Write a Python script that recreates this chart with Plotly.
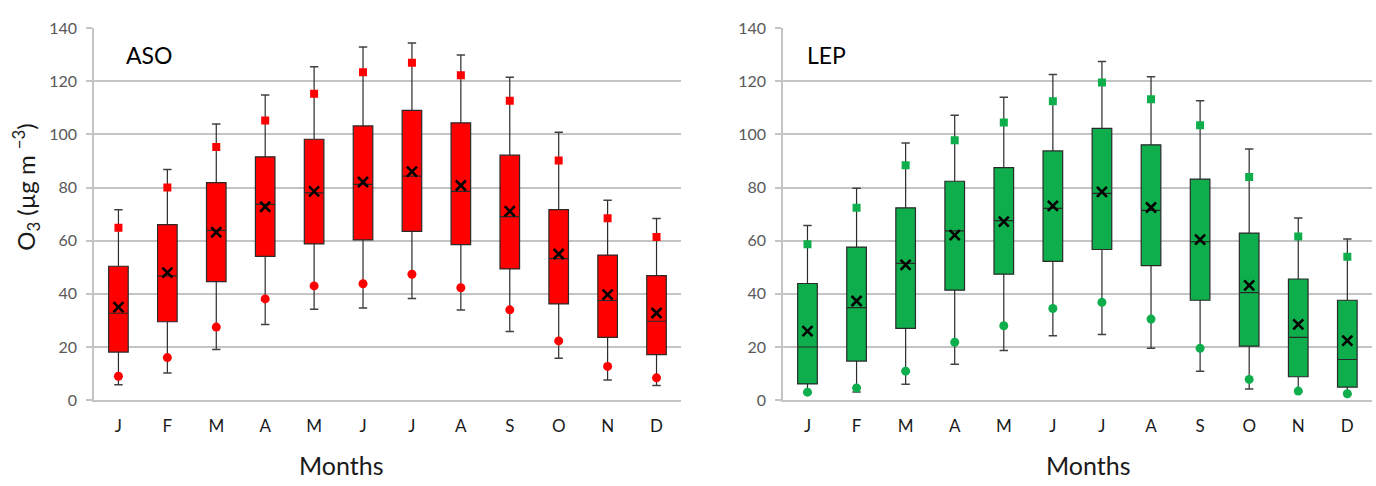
import plotly.graph_objects as go

months = ["J", "F", "M", "A", "M", "J", "J", "A", "S", "O", "N", "D"]
cats = ["Jan", "Feb", "Mar", "Apr", "May", "Jun", "Jul", "Aug", "Sep", "Oct", "Nov", "Dec"]

# ASO station
aso_max = [71.7, 86.8, 103.9, 114.9, 125.5, 132.9, 134.4, 129.9, 121.5, 100.8, 75.2, 68.4]
aso_p95 = [64.9, 80.0, 95.3, 105.3, 115.3, 123.4, 127.0, 122.3, 112.7, 90.2, 68.5, 61.4]
aso_q3 = [50.4, 66.1, 81.9, 91.6, 98.2, 103.2, 109.1, 104.4, 92.2, 71.7, 54.6, 46.9]
aso_med = [32.7, 46.8, 63.9, 73.7, 78.0, 81.2, 84.3, 78.6, 69.1, 53.3, 37.5, 29.7]
aso_mean = [35.0, 48.0, 63.2, 72.8, 78.6, 82.1, 86.0, 80.8, 71.1, 55.0, 39.7, 32.8]
aso_q1 = [18.1, 29.5, 44.6, 54.1, 58.8, 60.3, 63.5, 58.5, 49.4, 36.2, 23.6, 17.1]
aso_p5 = [9.0, 16.0, 27.5, 38.1, 43.0, 43.8, 47.4, 42.3, 34.0, 22.3, 12.7, 8.4]
aso_min = [5.8, 10.2, 19.1, 28.5, 34.2, 34.7, 38.3, 33.9, 25.8, 15.8, 7.6, 5.5]

# LEP station
lep_max = [65.7, 79.8, 96.8, 107.2, 114.0, 122.6, 127.5, 121.7, 112.7, 94.5, 68.6, 60.7]
lep_p95 = [58.7, 72.4, 88.4, 97.8, 104.5, 112.5, 119.6, 113.3, 103.5, 84.0, 61.6, 54.0]
lep_q3 = [43.9, 57.6, 72.4, 82.4, 87.5, 93.8, 102.3, 96.1, 83.2, 62.9, 45.6, 37.6]
lep_med = [20.0, 34.8, 51.5, 63.7, 67.6, 72.2, 77.8, 71.4, 59.7, 40.5, 23.6, 15.3]
lep_mean = [26.0, 37.3, 50.9, 62.1, 67.2, 73.1, 78.4, 72.5, 60.4, 43.2, 28.5, 22.4]
lep_q1 = [6.1, 14.7, 27.0, 41.4, 47.4, 52.2, 56.7, 50.6, 37.6, 20.3, 8.8, 4.9]
lep_p5 = [3.0, 4.6, 10.9, 21.8, 28.0, 34.5, 36.8, 30.5, 19.5, 7.8, 3.4, 2.4]
lep_min = [2.8, 3.1, 6.0, 13.5, 18.7, 24.2, 24.7, 19.5, 10.9, 4.2, 3.2, 2.2]

FONT = "Lato"
GRID = "#C4C4C4"

fig = go.Figure()


def add_panel(xa, ya, color, mx, p95, q3, med, mean, q1, p5, mn):
    fig.add_trace(go.Box(
        x=cats, q1=q1, median=med, q3=q3, lowerfence=mn, upperfence=mx,
        fillcolor=color, line=dict(color="#2A2A2A", width=1.2),
        width=0.4, whiskerwidth=0, boxpoints=False, hoverinfo="skip",
        xaxis=xa, yaxis=ya, showlegend=False,
    ))
    # whisker caps
    fig.add_trace(go.Scatter(
        x=cats + cats, y=mx + mn, mode="markers",
        marker=dict(symbol="line-ew", size=6, line=dict(color="#404040", width=1.5)),
        xaxis=xa, yaxis=ya, showlegend=False, hoverinfo="skip",
    ))
    fig.add_trace(go.Scatter(
        x=cats, y=p95, mode="markers",
        marker=dict(symbol="square", size=8, color=color),
        xaxis=xa, yaxis=ya, showlegend=False,
    ))
    fig.add_trace(go.Scatter(
        x=cats, y=p5, mode="markers",
        marker=dict(symbol="circle", size=9, color=color),
        xaxis=xa, yaxis=ya, showlegend=False,
    ))
    fig.add_trace(go.Scatter(
        x=cats, y=mean, mode="markers",
        marker=dict(symbol="x-thin", size=10, line=dict(color="black", width=2.6)),
        xaxis=xa, yaxis=ya, showlegend=False,
    ))


add_panel("x", "y", "#FF0000", aso_max, aso_p95, aso_q3, aso_med, aso_mean, aso_q1, aso_p5, aso_min)
add_panel("x2", "y2", "#0DAE4B", lep_max, lep_p95, lep_q3, lep_med, lep_mean, lep_q1, lep_p5, lep_min)

xcommon = dict(
    type="category", categoryorder="array", categoryarray=cats,
    tickvals=cats, ticktext=months,
    showgrid=False, showline=True, linecolor=GRID, linewidth=1.5,
    ticks="", ticklabelstandoff=10,
    tickfont=dict(family=FONT, size=17, color="#1A1A1A"),
    range=[-0.5, 11.5], zeroline=False,
)
ycommon = dict(
    range=[0, 140], tickvals=[0, 20, 40, 60, 80, 100, 120, 140],
    showgrid=True, gridcolor=GRID, gridwidth=1.5,
    showline=True, linecolor=GRID, linewidth=1.5,
    ticks="outside", ticklen=6, tickcolor=GRID, tickwidth=1.5,
    ticklabelstandoff=6,
    tickfont=dict(family=FONT, size=16, color="#595959"),
    zeroline=False,
)

fig.update_layout(
    width=1376, height=486,
    margin=dict(l=0, r=0, t=0, b=0),
    paper_bgcolor="white", plot_bgcolor="white",
    xaxis=dict(domain=[0.0683, 0.4949], anchor="y", **xcommon),
    yaxis=dict(domain=[0.1646, 0.961], anchor="x", **ycommon),
    xaxis2=dict(domain=[0.569, 0.997], anchor="y2", **xcommon),
    yaxis2=dict(domain=[0.1646, 0.961], anchor="x2", **ycommon),
    annotations=[
        dict(text="ASO", x=124, y=47, xref="paper", yref="paper", showarrow=False,
             font=dict(family=FONT, size=23, color="black"), xanchor="left", yanchor="middle"),
        dict(text="LEP", x=805, y=47, xref="paper", yref="paper", showarrow=False,
             font=dict(family=FONT, size=23, color="black"), xanchor="left", yanchor="middle"),
        dict(text="Months", x=341, y=474, xref="paper", yref="paper", showarrow=False,
             font=dict(family=FONT, size=25, color="#1A1A1A"), xanchor="center", yanchor="middle"),
        dict(text="Months", x=1088, y=474, xref="paper", yref="paper", showarrow=False,
             font=dict(family=FONT, size=25, color="#1A1A1A"), xanchor="center", yanchor="middle"),
        dict(text="O<sub>3</sub> (µg m <sup>−3</sup>)", x=26, y=184, xref="paper", yref="paper",
             showarrow=False, textangle=-90,
             font=dict(family=FONT, size=24, color="#1A1A1A"), xanchor="center", yanchor="middle"),
    ],
)

# convert pixel positions of annotations to paper coordinates
for a in fig.layout.annotations:
    a.x = a.x / 1376
    a.y = 1 - a.y / 486

fig.write_html("out.html")
